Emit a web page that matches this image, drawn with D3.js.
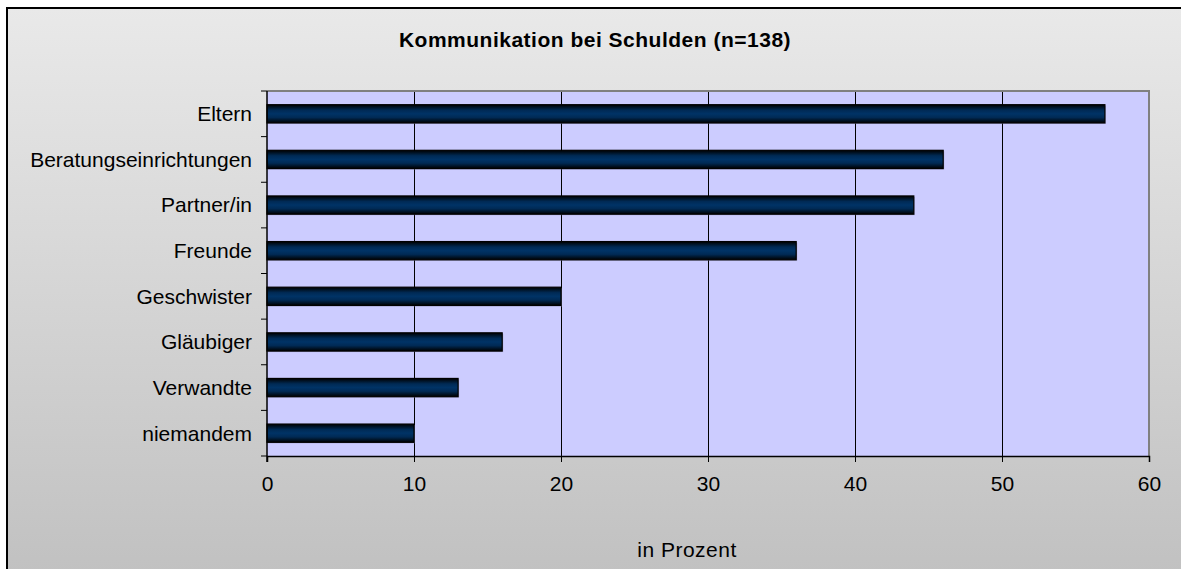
<!DOCTYPE html>
<html>
<head>
<meta charset="utf-8">
<script src="https://cdn.jsdelivr.net/npm/d3@7/dist/d3.min.js"></script>
<style>
  html, body { margin: 0; padding: 0; background: #ffffff; }
  svg { display: block; }
  text { font-family: "Liberation Sans", Arial, sans-serif; fill: #000; }
</style>
</head>
<body>
<svg id="chart" width="1181" height="569"></svg>
<script>
// Who respondents talk to about their debts (percent)
const categories = ["Eltern", "Beratungseinrichtungen", "Partner/in", "Freunde",
                    "Geschwister", "Gläubiger", "Verwandte", "niemandem"];
const values = [57, 46, 44, 36, 20, 16, 13, 10];
const xTicks = [0, 10, 20, 30, 40, 50, 60];
const title = "Kommunikation bei Schulden (n=138)";
const xTitle = "in Prozent";

const W = 1181, H = 569;
const plot = { left: 267, top: 91, right: 1149, bottom: 456 };

const svg = d3.select("#chart");
const defs = svg.append("defs");

// Chart area background: light grey fading to darker grey
const bg = defs.append("linearGradient").attr("id", "bgGrad")
  .attr("x1", 0).attr("y1", 0).attr("x2", 0).attr("y2", 1);
bg.append("stop").attr("offset", "0%").attr("stop-color", "#e9e9e9");
bg.append("stop").attr("offset", "100%").attr("stop-color", "#c0c0c0");

// Bar fill: dark edges, navy centre
const bar = defs.append("linearGradient").attr("id", "barGrad")
  .attr("x1", 0).attr("y1", 0).attr("x2", 0).attr("y2", 1);
bar.append("stop").attr("offset", "0%").attr("stop-color", "#000000");
bar.append("stop").attr("offset", "30%").attr("stop-color", "#002a55");
bar.append("stop").attr("offset", "50%").attr("stop-color", "#003366");
bar.append("stop").attr("offset", "70%").attr("stop-color", "#002a55");
bar.append("stop").attr("offset", "100%").attr("stop-color", "#000000");

svg.append("rect")
  .attr("x", 7).attr("y", 8).attr("width", W + 10).attr("height", H + 10)
  .attr("fill", "url(#bgGrad)")
  .attr("stroke", "#000").attr("stroke-width", 2);

const x = d3.scaleLinear().domain([0, 60]).range([plot.left, plot.right]);
const y = d3.scaleBand().domain(categories).range([plot.top, plot.bottom])
  .paddingInner(0.6).paddingOuter(0.3);
const yOuter = d3.scaleBand().domain(categories).range([plot.top, plot.bottom]);

// Plot area
svg.append("rect")
  .attr("x", plot.left).attr("y", plot.top)
  .attr("width", plot.right - plot.left).attr("height", plot.bottom - plot.top)
  .attr("fill", "#ccccff");

// Vertical gridlines
svg.append("g").selectAll("line").data(xTicks.filter(d => d > 0 && d < 60)).join("line")
  .attr("x1", d => x(d)).attr("x2", d => x(d))
  .attr("y1", plot.top).attr("y2", plot.bottom)
  .attr("stroke", "#000").attr("stroke-width", 1).attr("shape-rendering", "crispEdges");

// Plot border (top/right grey)
svg.append("path")
  .attr("d", `M${plot.left},${plot.top}H${plot.right}V${plot.bottom}`)
  .attr("fill", "none").attr("stroke", "#808080").attr("stroke-width", 2);

// Bars with a faint shadow
const barsG = svg.append("g");
barsG.selectAll("rect.shadow").data(categories).join("rect")
  .attr("class", "shadow")
  .attr("x", x(0) + 1).attr("y", d => y(d) + 1)
  .attr("width", (d, i) => x(values[i]) - x(0))
  .attr("height", y.bandwidth())
  .attr("fill", "#8a8ab0").attr("opacity", 0.6);
barsG.selectAll("rect.bar").data(categories).join("rect")
  .attr("class", "bar")
  .attr("x", x(0)).attr("y", d => y(d))
  .attr("width", (d, i) => x(values[i]) - x(0))
  .attr("height", y.bandwidth())
  .attr("fill", "url(#barGrad)")
  .attr("stroke", "#000").attr("stroke-width", 1.2);

// X axis
const xAxis = d3.axisBottom(x).tickValues(xTicks).tickSize(6).tickPadding(14)
  .tickFormat(d3.format("d"));
const gx = svg.append("g").attr("transform", `translate(0,${plot.bottom})`).call(xAxis);
gx.select(".domain").attr("stroke", "#000").attr("stroke-width", 1.5);
gx.selectAll(".tick line").attr("stroke", "#000");
gx.selectAll(".tick text").attr("font-size", 21).attr("font-family", "Liberation Sans, Arial, sans-serif");

// Y axis: labels centred on bars, ticks at category boundaries
const gy = svg.append("g");
gy.append("line")
  .attr("x1", plot.left).attr("x2", plot.left)
  .attr("y1", plot.top).attr("y2", plot.bottom + 6)
  .attr("stroke", "#000").attr("stroke-width", 1.5);
const bounds = categories.map(c => yOuter(c)).concat([plot.bottom]);
gy.selectAll("line.tick").data(bounds).join("line")
  .attr("class", "tick")
  .attr("x1", plot.left - 6).attr("x2", plot.left)
  .attr("y1", d => d).attr("y2", d => d)
  .attr("stroke", "#000").attr("stroke-width", 1);
gy.selectAll("text").data(categories).join("text")
  .attr("x", plot.left - 15)
  .attr("y", d => y(d) + y.bandwidth() / 2)
  .attr("dy", "0.35em")
  .attr("text-anchor", "end")
  .attr("font-size", 21)
  .text(d => d);

// Titles
svg.append("text")
  .attr("x", 595).attr("y", 47)
  .attr("text-anchor", "middle")
  .attr("font-size", 21).attr("font-weight", "bold")
  .attr("letter-spacing", 0.5)
  .text(title);
svg.append("text")
  .attr("x", 687).attr("y", 557)
  .attr("text-anchor", "middle")
  .attr("font-size", 21)
  .attr("letter-spacing", 0.5)
  .text(xTitle);
</script>
</body>
</html>
